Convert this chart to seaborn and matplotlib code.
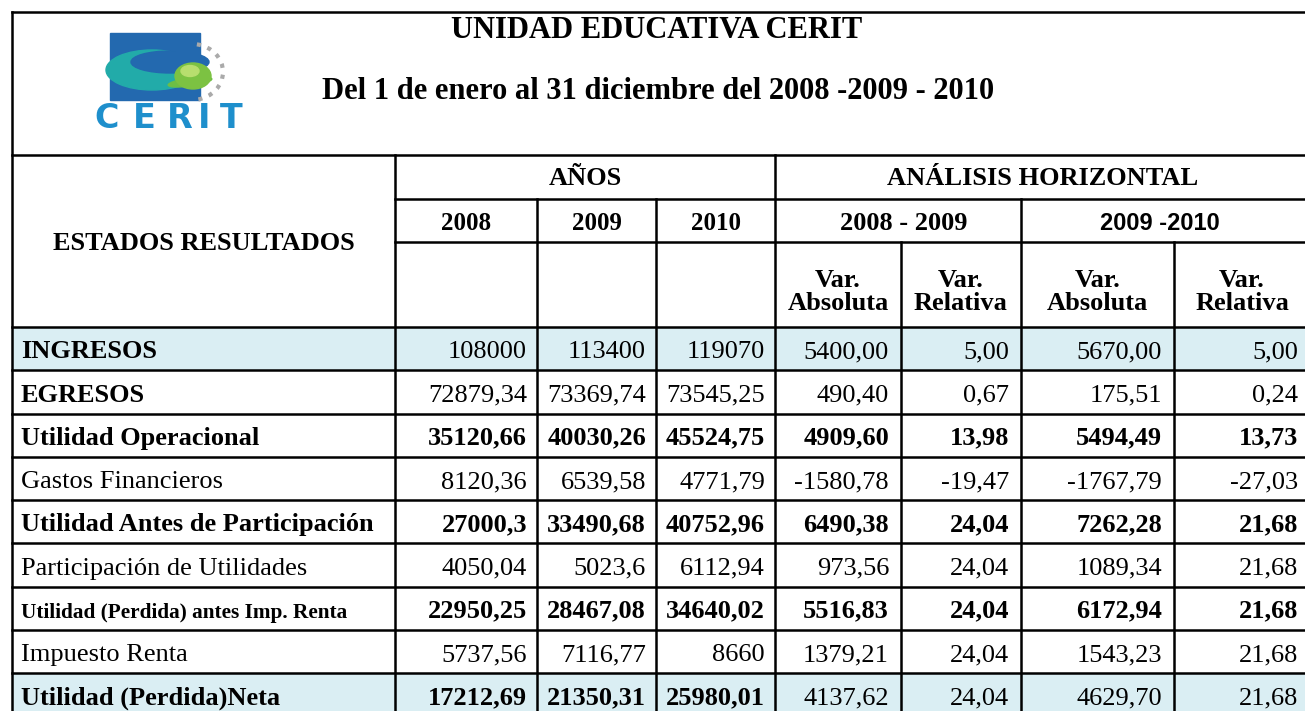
import numpy as np
import pandas as pd
import matplotlib
matplotlib.use("Agg")
import matplotlib.pyplot as plt
from matplotlib.colors import ListedColormap
from matplotlib.patches import Rectangle, Ellipse, Arc
import seaborn as sns

# ── Data ──────────────────────────────────────────────────────────────────
TITLE = "UNIDAD EDUCATIVA CERIT"
SUBTITLE = "Del 1 de enero al 31 diciembre del 2008 -2009 - 2010"
LOGO_TEXT = "CERIT"

years = ["2008", "2009", "2010"]
periods = ["2008 - 2009", "2009 -2010"]
var_labels = ["Var.\nAbsoluta", "Var.\nRelativa", "Var.\nAbsoluta", "Var.\nRelativa"]

row_labels = [
    "INGRESOS",
    "EGRESOS",
    "Utilidad Operacional",
    "Gastos Financieros",
    "Utilidad Antes de Participación",
    "Participación de Utilidades",
    "Utilidad (Perdida) antes Imp. Renta",
    "Impuesto Renta",
    "Utilidad (Perdida)Neta",
]
label_bold = [True, True, True, False, True, False, True, False, True]
highlight = [1, 0, 0, 0, 0, 0, 0, 0, 1]

val_2008 = ["108000", "72879,34", "35120,66", "8120,36", "27000,3",
            "4050,04", "22950,25", "5737,56", "17212,69"]
val_2009 = ["113400", "73369,74", "40030,26", "6539,58", "33490,68",
            "5023,6", "28467,08", "7116,77", "21350,31"]
val_2010 = ["119070", "73545,25", "45524,75", "4771,79", "40752,96",
            "6112,94", "34640,02", "8660", "25980,01"]
abs_0809 = ["5400,00", "490,40", "4909,60", "-1580,78", "6490,38",
            "973,56", "5516,83", "1379,21", "4137,62"]
rel_0809 = ["5,00", "0,67", "13,98", "-19,47", "24,04",
            "24,04", "24,04", "24,04", "24,04"]
abs_0910 = ["5670,00", "175,51", "5494,49", "-1767,79", "7262,28",
            "1089,34", "6172,94", "1543,23", "4629,70"]
rel_0910 = ["5,00", "0,24", "13,73", "-27,03", "21,68",
            "21,68", "21,68", "21,68", "21,68"]

years_bold = [False, False, True, False, True, False, True, False, True]
vars_bold = [False, False, True, False, True, False, True, False, False]

# ── Layout (pixels) ───────────────────────────────────────────────────────
W, H = 1305, 711
COL_X = [12, 395, 537, 656, 775, 901, 1021, 1174, 1310]
TOP, HEAD1, HEAD2, HEAD3, BODY = 12, 155, 199, 242, 327
ROW_H = 43.25
ROW_Y = BODY + ROW_H * np.arange(len(row_labels) + 1)
LW = 1.8
SERIF = "Liberation Serif"
FS = 19
HIGHLIGHT = "#DAEEF3"

sns.set_theme(style="white")
plt.rcParams["font.family"] = [SERIF, "DejaVu Sans"]
plt.rcParams["text.color"] = "black"

fig = plt.figure(figsize=(W / 100, H / 100), dpi=100)

# row shading of the body through a one-column heatmap
ax_body = fig.add_axes([COL_X[0] / W, 1 - ROW_Y[-1] / H,
                        (W - COL_X[0]) / W, (ROW_Y[-1] - BODY) / H])
fill_df = pd.DataFrame({"fill": highlight}, index=row_labels)
sns.heatmap(fill_df, ax=ax_body, cmap=ListedColormap(["white", HIGHLIGHT]),
            vmin=0, vmax=1, cbar=False, xticklabels=False, yticklabels=False)
ax_body.set_axis_off()

ax = fig.add_axes([0, 0, 1, 1])
ax.set_xlim(0, W)
ax.set_ylim(H, 0)
ax.set_axis_off()


def hline(y, x0, x1):
    ax.plot([x0, x1], [y, y], color="black", lw=LW, solid_capstyle="projecting")


def vline(x, y0, y1):
    ax.plot([x, x], [y0, y1], color="black", lw=LW, solid_capstyle="projecting")


# ── Grid ──────────────────────────────────────────────────────────────────
hline(TOP, COL_X[0], W + 5)
vline(COL_X[0], TOP, H + 5)
hline(HEAD1, COL_X[0], W + 5)
hline(HEAD2, COL_X[1], W + 5)
hline(HEAD3, COL_X[1], W + 5)
for y in ROW_Y[:-1]:
    hline(y, COL_X[0], W + 5)
vline(COL_X[1], HEAD1, H + 5)
vline(COL_X[4], HEAD1, H + 5)
for x in (COL_X[2], COL_X[3], COL_X[6]):
    vline(x, HEAD2, H + 5)
for x in (COL_X[5], COL_X[7]):
    vline(x, HEAD3, H + 5)

# ── Logo ──────────────────────────────────────────────────────────────────
ax.add_patch(Rectangle((110, 33), 90, 67, color="#2369AF", zorder=3))
ax.add_patch(Ellipse((152, 70), 92, 40, color="#22ABA9", zorder=4))
ax.add_patch(Ellipse((170, 62), 78, 22, color="#2369AF", zorder=5))
ax.add_patch(Ellipse((190, 82), 44, 8, angle=-8, color="#6DBE45", zorder=5))
ax.add_patch(Arc((192, 72), 62, 56, theta1=-80, theta2=80, color="#AAAAAA",
                 lw=3, ls=":", zorder=4))
ax.add_patch(Ellipse((193, 76), 36, 26, color="#7CC242", zorder=6))
ax.add_patch(Ellipse((190, 71), 18, 11, color="#B8DE6E", zorder=7))
for ch, cx in zip(LOGO_TEXT, [107, 144, 180, 204, 231]):
    ax.text(cx, 128, ch, ha="center", va="baseline", fontsize=24,
            fontweight="heavy", color="#1E8FCC", family="DejaVu Sans", zorder=6)

# ── Titles ────────────────────────────────────────────────────────────────
ax.text(657, 38, TITLE, ha="center", va="baseline", fontsize=22, fontweight="bold")
ax.text(658, 99, SUBTITLE, ha="center", va="baseline", fontsize=22, fontweight="bold")

# ── Header cells ──────────────────────────────────────────────────────────
ax.text((COL_X[0] + COL_X[1]) / 2, 250, "ESTADOS RESULTADOS", ha="center",
        va="baseline", fontsize=FS, fontweight="bold")
ax.text((COL_X[1] + COL_X[4]) / 2, 185, "AÑOS", ha="center", va="baseline",
        fontsize=FS, fontweight="bold")
ax.text((COL_X[4] + COL_X[8]) / 2, 185, "ANÁLISIS HORIZONTAL", ha="center",
        va="baseline", fontsize=FS, fontweight="bold")
for j, yr in enumerate(years):
    ax.text((COL_X[1 + j] + COL_X[2 + j]) / 2, 230, yr, ha="center",
            va="baseline", fontsize=18, fontweight="bold")
ax.text((COL_X[4] + COL_X[6]) / 2 + 6, 230, periods[0], ha="center",
        va="baseline", fontsize=FS, fontweight="bold")
ax.text((COL_X[6] + COL_X[8]) / 2 - 6, 230, periods[1], ha="center",
        va="baseline", fontsize=17, fontweight="bold", family="Liberation Sans")
for j, lab in enumerate(var_labels):
    top, bottom = lab.split("\n")
    cx = (COL_X[4 + j] + COL_X[5 + j]) / 2
    ax.text(cx, 287, top, ha="center", va="baseline", fontsize=FS, fontweight="bold")
    ax.text(cx, 310, bottom, ha="center", va="baseline", fontsize=FS, fontweight="bold")

# ── Body ──────────────────────────────────────────────────────────────────
columns = [val_2008, val_2009, val_2010, abs_0809, rel_0809, abs_0910, rel_0910]
for i, label in enumerate(row_labels):
    base = ROW_Y[i + 1] - 12
    size = 15.3 if len(label) > 32 else FS
    ax.text(COL_X[0] + 9, base, label, ha="left", va="baseline", fontsize=size,
            fontweight="bold" if label_bold[i] else "normal")
    for j, col in enumerate(columns):
        bold = years_bold[i] if j < 3 else vars_bold[i]
        pad = 10 if j < 3 else 12
        ax.text(COL_X[2 + j] - pad, base, col[i], ha="right", va="baseline",
                fontsize=FS, fontweight="bold" if bold else "normal")

fig.savefig("out.png", dpi=100)
